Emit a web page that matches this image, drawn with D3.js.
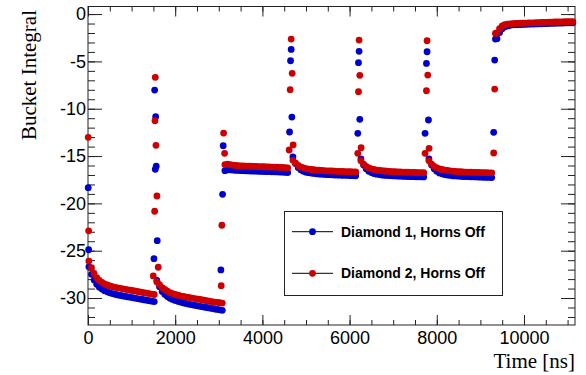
<!DOCTYPE html>
<html>
<head>
<meta charset="utf-8">
<script src="https://cdn.jsdelivr.net/npm/d3@7/dist/d3.min.js"></script>
<style>
  html, body { margin: 0; padding: 0; background: #fff; }
  svg { display: block; }
</style>
</head>
<body>
<div id="chart"></div>
<script>
// bucket samples on a 60 ns grid starting at 20 ns; null = inside a batch transition
const gridStartNs = 20;
const gridStepNs = 60;

const diamond1Band = [
  -26.7, -27.5, -28.1, -28.55, -28.85, -29.05, -29.22, -29.35, -29.45, -29.53,
  -29.6, -29.67, -29.73, -29.78, -29.83, -29.88, -29.93, -29.98, -30.03, -30.08,
  -30.13, -30.18, -30.23, -30.28, -30.33, -30.38,
  -28.15, -28.8, -29.3, -29.6, -29.85, -30.02, -30.15, -30.25, -30.35, -30.43,
  -30.5, -30.57, -30.63, -30.69, -30.75, -30.8, -30.85, -30.9, -30.95, -31.0,
  -31.05, -31.1, -31.15, -31.2, -31.25, -31.3,
  -16.55, -16.45, -16.45, -16.48, -16.5, -16.52, -16.54, -16.55, -16.56, -16.57,
  -16.58, -16.59, -16.6, -16.61, -16.62, -16.63, -16.64, -16.65, -16.66, -16.67,
  -16.68, -16.69, -16.7, -16.72, -16.75, null,
  -15.1, -15.8, -16.2, -16.45, -16.6, -16.7, -16.76, -16.8, -16.84, -16.87,
  -16.9, -16.92, -16.94, -16.96, -16.97, -16.98, -17.0, -17.01, -17.02, -17.03,
  -17.04, -17.05, -17.06, -17.07, -17.08, null,
  -15.3, -15.95, -16.35, -16.6, -16.75, -16.85, -16.92, -16.96, -17.0, -17.03,
  -17.05, -17.07, -17.09, -17.1, -17.12, -17.13, -17.14, -17.15, -17.16, -17.17,
  -17.18, -17.19, -17.2, -17.2, -17.21, null,
  -15.3, -15.95, -16.35, -16.6, -16.78, -16.88, -16.95, -17.0, -17.04, -17.08,
  -17.1, -17.12, -17.14, -17.16, -17.17, -17.18, -17.19, -17.2, -17.21, -17.22,
  -17.23, -17.24, -17.25, -17.26, -17.27, null,
  -2.6, -1.95, -1.55, -1.35, -1.25, -1.18, -1.14, -1.12, -1.11, -1.1,
  -1.09, -1.08, -1.07, -1.06, -1.05, -1.04, -1.03, -1.02, -1.01, -1.0,
  -0.99, -0.98, -0.97, -0.96, -0.95, -0.95, -0.94, -0.93, -0.93, -0.92
];

const diamond2Band = [
  -26.1, -26.8, -27.4, -27.85, -28.15, -28.35, -28.5, -28.62, -28.72, -28.8,
  -28.87, -28.93, -28.98, -29.03, -29.08, -29.13, -29.18, -29.23, -29.28, -29.33,
  -29.38, -29.43, -29.48, -29.53, -29.58, -29.63,
  -28.3, -28.6, -28.9, -29.1, -29.28, -29.42, -29.53, -29.62, -29.7, -29.77,
  -29.83, -29.88, -29.93, -29.98, -30.03, -30.08, -30.13, -30.18, -30.23, -30.28,
  -30.33, -30.38, -30.43, -30.47, -30.5, -30.53,
  -15.9, -15.85, -15.9, -15.95, -16.0, -16.02, -16.04, -16.05, -16.06, -16.07,
  -16.08, -16.09, -16.1, -16.11, -16.12, -16.13, -16.14, -16.15, -16.16, -16.17,
  -16.18, -16.19, -16.2, -16.22, -16.25, null,
  -15.45, -15.75, -16.0, -16.15, -16.25, -16.32, -16.38, -16.42, -16.45, -16.48,
  -16.5, -16.52, -16.54, -16.56, -16.57, -16.58, -16.6, -16.61, -16.62, -16.63,
  -16.64, -16.65, -16.66, -16.67, -16.68, null,
  -15.5, -15.85, -16.1, -16.25, -16.35, -16.42, -16.48, -16.52, -16.55, -16.58,
  -16.6, -16.62, -16.64, -16.66, -16.67, -16.68, -16.69, -16.7, -16.71, -16.72,
  -16.73, -16.74, -16.75, -16.75, -16.76, null,
  -15.5, -15.85, -16.1, -16.25, -16.35, -16.42, -16.48, -16.52, -16.56, -16.6,
  -16.62, -16.64, -16.66, -16.68, -16.69, -16.7, -16.71, -16.72, -16.73, -16.74,
  -16.75, -16.75, -16.76, -16.77, -16.77, null,
  -2.0, -1.55, -1.25, -1.12, -1.06, -1.03, -1.01, -0.99, -0.98, -0.97,
  -0.96, -0.95, -0.94, -0.93, -0.92, -0.91, -0.9, -0.89, -0.88, -0.87,
  -0.86, -0.85, -0.84, -0.83, -0.82, -0.82, -0.81, -0.8, -0.8, -0.79
];

// isolated buckets during the batch transitions: [time ns, integral]
const diamond1Spikes = [
  [5, -18.34], [15, -24.9],
  [1513, -25.84], [1529, -8.03], [1543, -16.4], [1552, -10.84], [1565, -16.08], [1588, -23.94],
  [3048, -27.03], [3087, -19.04], [3101, -13.91],
  [4623, -12.46], [4646, -4.93], [4660, -3.73], [4676, -10.88],
  [6188, -12.6], [6204, -5.14], [6218, -3.94], [6234, -11.12],
  [7731, -12.6], [7763, -5.21], [7777, -3.98], [7809, -11.19],
  [9305, -12.49], [9328, -4.86], [9345, -2.64]
];

const diamond2Spikes = [
  [5, -13.02], [15, -22.9],
  [1497, -27.67], [1529, -20.83], [1536, -11.27], [1543, -6.68], [1559, -13.87], [1581, -19.22], [1611, -26.75],
  [3055, -28.69], [3071, -22.31], [3110, -12.57], [3133, -14.71],
  [4614, -14.36], [4637, -7.99], [4660, -2.64], [4683, -6.26], [4705, -13.83],
  [6188, -14.71], [6204, -8.2], [6218, -2.75], [6234, -6.47], [6264, -14.12],
  [7731, -14.71], [7763, -8.1], [7777, -2.82], [7793, -6.44], [7823, -14.18],
  [9305, -14.68], [9328, -7.92], [9345, -2.05]
];

const xMajorTicks = [0, 2000, 4000, 6000, 8000, 10000];
const yMajorTicks = [-30, -25, -20, -15, -10, -5, 0];
const seriesNames = ['Diamond 1, Horns Off', 'Diamond 2, Horns Off'];
const seriesColors = ['#0000cc', '#cc0000'];

const W = 586, H = 375;
const frame = { left: 88, right: 575, top: 6.5, bottom: 325 };

const svg = d3.select('#chart').append('svg')
  .attr('width', W)
  .attr('height', H)
  .style('font-family', '"Liberation Serif", "Times New Roman", serif');

const x = d3.scaleLinear().domain([0, 11170]).range([frame.left, frame.right]);
const y = d3.scaleLinear().domain([-32.85, 0.8]).range([frame.bottom, frame.top]);

const xMinor = d3.range(0, 11170, 500);
const yMinor = d3.range(-32, 1, 1);

function styleAxis(g) {
  g.select('.domain').remove();
  g.selectAll('.tick line').attr('stroke', '#222').attr('stroke-width', 1);
  g.selectAll('.tick text').attr('fill', '#000').style('font-size', '18px');
}

// X axis (bottom + top mirror)
svg.append('g')
  .attr('transform', `translate(0,${frame.bottom})`)
  .call(d3.axisBottom(x).tickValues(xMinor).tickSize(-5).tickFormat(''))
  .call(styleAxis);
svg.append('g')
  .attr('transform', `translate(0,${frame.bottom})`)
  .call(d3.axisBottom(x).tickValues(xMajorTicks).tickSize(-10).tickPadding(6).tickFormat(d => String(d)))
  .call(styleAxis);
svg.append('g')
  .attr('transform', `translate(0,${frame.top})`)
  .call(d3.axisTop(x).tickValues(xMinor).tickSize(-5).tickFormat(''))
  .call(styleAxis);
svg.append('g')
  .attr('transform', `translate(0,${frame.top})`)
  .call(d3.axisTop(x).tickValues(xMajorTicks).tickSize(-10).tickFormat(''))
  .call(styleAxis);

// Y axis (left + right mirror)
svg.append('g')
  .attr('transform', `translate(${frame.left},0)`)
  .call(d3.axisLeft(y).tickValues(yMinor).tickSize(-7).tickFormat(''))
  .call(styleAxis);
svg.append('g')
  .attr('transform', `translate(${frame.left},0)`)
  .call(d3.axisLeft(y).tickValues(yMajorTicks).tickSize(-14).tickPadding(2).tickFormat(d => String(d)))
  .call(styleAxis);
svg.append('g')
  .attr('transform', `translate(${frame.right},0)`)
  .call(d3.axisRight(y).tickValues(yMinor).tickSize(-7).tickFormat(''))
  .call(styleAxis);
svg.append('g')
  .attr('transform', `translate(${frame.right},0)`)
  .call(d3.axisRight(y).tickValues(yMajorTicks).tickSize(-14).tickFormat(''))
  .call(styleAxis);

// Frame
svg.append('rect')
  .attr('x', frame.left)
  .attr('y', frame.top)
  .attr('width', frame.right - frame.left)
  .attr('height', frame.bottom - frame.top)
  .attr('fill', 'none')
  .attr('stroke', '#222')
  .attr('stroke-width', 1);

// Markers
const markerR = 3.4;
function bandPoints(values) {
  return values
    .map((v, i) => ({ t: gridStartNs + i * gridStepNs, v }))
    .filter(d => d.v !== null);
}

[[diamond1Band, diamond1Spikes], [diamond2Band, diamond2Spikes]].forEach(([band, spikes], k) => {
  const g = svg.append('g').attr('fill', seriesColors[k]);
  g.selectAll('circle.band')
    .data(bandPoints(band))
    .join('circle')
    .attr('class', 'band')
    .attr('cx', d => x(d.t))
    .attr('cy', d => y(d.v))
    .attr('r', markerR);
  g.selectAll('circle.spike')
    .data(spikes)
    .join('circle')
    .attr('class', 'spike')
    .attr('cx', d => x(d[0]))
    .attr('cy', d => y(d[1]))
    .attr('r', markerR);
});

// Axis titles
svg.append('text')
  .attr('x', frame.right)
  .attr('y', 368)
  .attr('text-anchor', 'end')
  .style('font-size', '21px')
  .text('Time [ns]');

svg.append('text')
  .attr('transform', `translate(36,10) rotate(-90)`)
  .attr('text-anchor', 'end')
  .style('font-size', '21px')
  .text('Bucket Integral');

// Legend
const legend = svg.append('g').style('font-family', '"Liberation Sans", Arial, sans-serif');
legend.append('rect')
  .attr('x', 284.5)
  .attr('y', 211.5)
  .attr('width', 218)
  .attr('height', 84)
  .attr('fill', '#fff')
  .attr('stroke', '#222')
  .attr('stroke-width', 1);

const legendRows = [231.7, 273.3];
seriesNames.forEach((name, k) => {
  const ly = legendRows[k];
  legend.append('line')
    .attr('x1', 292).attr('x2', 333)
    .attr('y1', ly).attr('y2', ly)
    .attr('stroke', '#000')
    .attr('stroke-width', 1);
  legend.append('circle')
    .attr('cx', 312.5).attr('cy', ly)
    .attr('r', markerR)
    .attr('fill', seriesColors[k]);
  legend.append('text')
    .attr('x', 341)
    .attr('y', ly + 5)
    .style('font-size', '14px')
    .style('font-weight', 'bold')
    .text(name);
});
</script>
</body>
</html>
